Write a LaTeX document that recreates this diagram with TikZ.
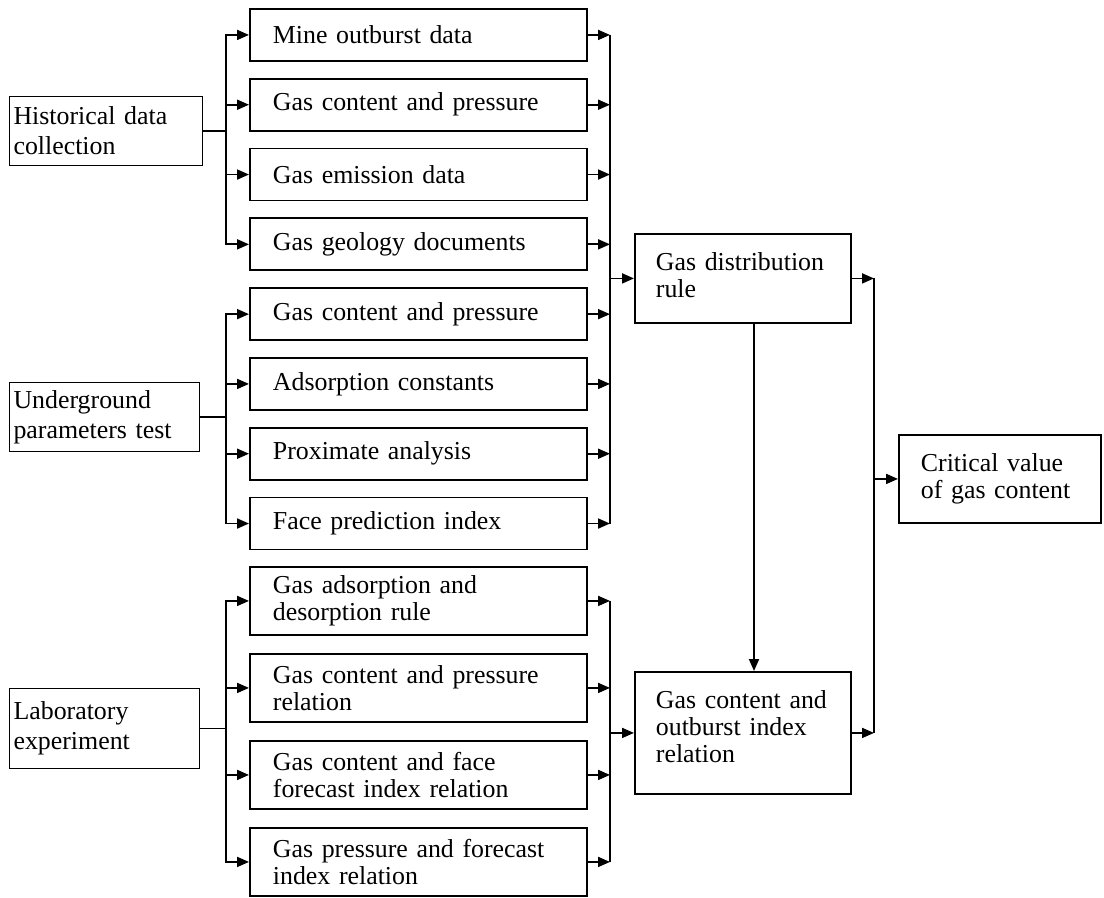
\documentclass[tikz,border=0pt]{standalone}
\usepackage{fontspec}
\setmainfont{Liberation Serif}
\usetikzlibrary{arrows.meta}
\begin{document}
\begin{tikzpicture}[x=0.75pt,y=-0.75pt,
  boxline/.style={line width=1.4pt},
  plainbox/.style={draw,boxline,rectangle,anchor=north west,align=left,inner ysep=0pt,
    font=\fontsize{19.4}{20.25}\selectfont},
  midbox/.style={plainbox,text width=218.25pt,inner xsep=17.25pt,minimum height=39pt},
  labbox/.style={midbox,minimum height=51pt},
  srcbox/.style={plainbox,line width=0.8pt,inner xsep=3pt,minimum height=51.75pt,
    text width=136.5pt,font=\fontsize{19.4}{22.5}\selectfont},
  resbox/.style={plainbox,text width=130.5pt,inner xsep=15.75pt},
  arr/.style={boxline,-{Triangle[length=9pt,width=7.5pt]}}]
  \useasboundingbox (0,0) rectangle (1104,897);
  \coordinate (lbus) at (226,0);
  \coordinate (rbus) at (610,0);
  \coordinate (down) at (754,0);
  \coordinate (rbus2) at (874,0);

  \node[srcbox,text width=138.75pt] (hist) at (9,96) {Historical data\\collection};
  \node[srcbox] (ugtest) at (9,382) {Underground\\parameters test};
  \node[srcbox,minimum height=60pt] (labexp) at (9,688) {Laboratory\\experiment};

  \node[midbox] (mine) at (249,8) {Mine outburst data};
  \node[midbox] (gascp) at (249,77.8) {Gas content and pressure};
  \node[midbox] (emis) at (249,147.6) {Gas emission data};
  \node[midbox] (geol) at (249,217.4) {Gas geology documents};
  \node[midbox] (gascpb) at (249,287.2) {Gas content and pressure};
  \node[midbox] (adsorp) at (249,357) {Adsorption constants};
  \node[midbox] (prox) at (249,426.8) {Proximate analysis};
  \node[midbox] (face) at (249,496.6) {Face prediction index};

  \node[labbox] (adsdes) at (249,566) {Gas adsorption and\\desorption rule};
  \node[labbox] (cprel) at (249,653) {Gas content and pressure\\relation};
  \node[labbox] (cface) at (249,740) {Gas content and face\\forecast index relation};
  \node[labbox] (pfore) at (249,827) {Gas pressure and forecast\\index relation};

  \node[resbox,minimum height=66.75pt] (gasdist) at (634,233)
    {Gas distribution\\rule\rule[-5pt]{0pt}{5pt}};
  \node[resbox,minimum height=91.5pt] (outburst) at (634,671)
    {Gas content and\\outburst index\\relation\rule[-10pt]{0pt}{10pt}};
  \node[resbox,text width=118.5pt,inner xsep=16.5pt,minimum height=66pt] (critical) at (898,434)
    {Critical value\\of gas content\rule[-5pt]{0pt}{5pt}};

  \foreach \b in {mine,gascp,emis,geol}
    \draw[arr] (hist.east) -- (hist.east -| lbus) |- (\b.west);
  \foreach \b in {gascpb,adsorp,prox,face}
    \draw[arr] (ugtest.east) -- (ugtest.east -| lbus) |- (\b.west);
  \foreach \b in {adsdes,cprel,cface,pfore}
    \draw[arr] (labexp.east) -- (labexp.east -| lbus) |- (\b.west);

  \foreach \b in {mine,gascp,emis,geol,gascpb,adsorp,prox,face,adsdes,cprel,cface,pfore}
    \draw[arr] (\b.east) -- (\b.east -| rbus);
  \draw[boxline] (mine.east -| rbus) -- (face.east -| rbus);
  \draw[boxline] (adsdes.east -| rbus) -- (pfore.east -| rbus);
  \draw[arr] (rbus |- gasdist.west) -- (gasdist.west);
  \draw[arr] (rbus |- outburst.west) -- (outburst.west);

  \draw[arr] (gasdist.south -| down) -- (outburst.north -| down);
  \draw[arr] (gasdist.east) -- (gasdist.east -| rbus2);
  \draw[arr] (outburst.east) -- (outburst.east -| rbus2);
  \draw[boxline] (gasdist.east -| rbus2) -- (outburst.east -| rbus2);
  \draw[arr] (rbus2 |- critical.west) -- (critical.west);
\end{tikzpicture}
\end{document}
